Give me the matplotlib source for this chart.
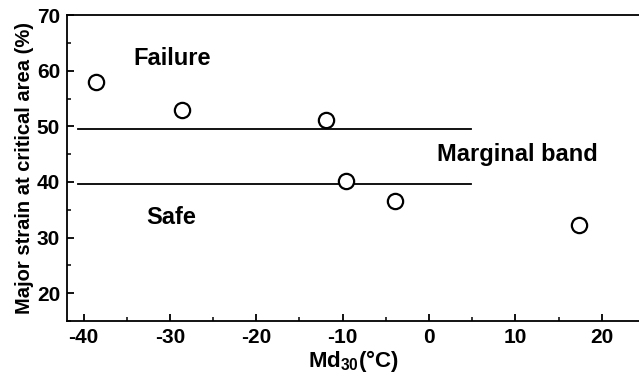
import matplotlib
matplotlib.use("Agg")
from matplotlib import pyplot as plt
from matplotlib.ticker import MultipleLocator

plt.rcParams['font.family'] = ['Liberation Sans', 'DejaVu Sans']
plt.rcParams['font.weight'] = 'bold'
plt.rcParams['axes.labelweight'] = 'bold'
plt.rcParams['axes.unicode_minus'] = False
plt.rcParams['mathtext.fontset'] = 'custom'
plt.rcParams['mathtext.rm'] = 'Liberation Sans:bold'
plt.rcParams['mathtext.bf'] = 'Liberation Sans:bold'

# data
md30 = [-38.5, -28.6, -11.9, -9.6, -3.9, 17.3]
strain = [57.9, 52.9, 51.1, 40.1, 36.5, 32.3]

# band limits (upper / lower) and their extent
band_levels = [49.6, 39.6]
band_x = [-40.6, 4.9]

fig = plt.figure(figsize=(6.39, 3.78), dpi=100)
ax = fig.add_axes([0.105, 0.151, 0.895, 0.809])

ax.plot(md30, strain, "o", mfc="white", mec="black", ms=11, mew=1.6, zorder=3)
for lev in band_levels:
    ax.plot(band_x, [lev, lev], "-", color="black", lw=1.3)

ax.text(-29.7, 62.2, "Failure", fontsize=17, ha="center", va="center")
ax.text(-29.8, 33.6, "Safe", fontsize=17, ha="center", va="center")
ax.text(10.2, 44.9, "Marginal band", fontsize=17, ha="center", va="center")

ax.set_xlim(-41.9, 24.3)
ax.set_ylim(15, 70)
ax.xaxis.set_major_locator(MultipleLocator(10))
ax.xaxis.set_minor_locator(MultipleLocator(5))
ax.yaxis.set_major_locator(MultipleLocator(10))
ax.yaxis.set_minor_locator(MultipleLocator(5))
ax.set_yticks([20, 30, 40, 50, 60, 70])

ax.spines["right"].set_visible(False)
for s in ["left", "bottom", "top"]:
    ax.spines[s].set_linewidth(1.3)
ax.tick_params(which="major", direction="in", length=5, width=1.3, labelsize=15, pad=5)
ax.tick_params(which="minor", direction="in", length=3, width=1.1)
ax.tick_params(top=False, right=False, which="both")

ax.set_xlabel(r"Md$_{\mathbf{30}}$(°C)", fontsize=16, labelpad=1)
ax.set_ylabel("Major strain at critical area (%)", fontsize=14.5, labelpad=2)

fig.savefig("out.png", dpi=100)
